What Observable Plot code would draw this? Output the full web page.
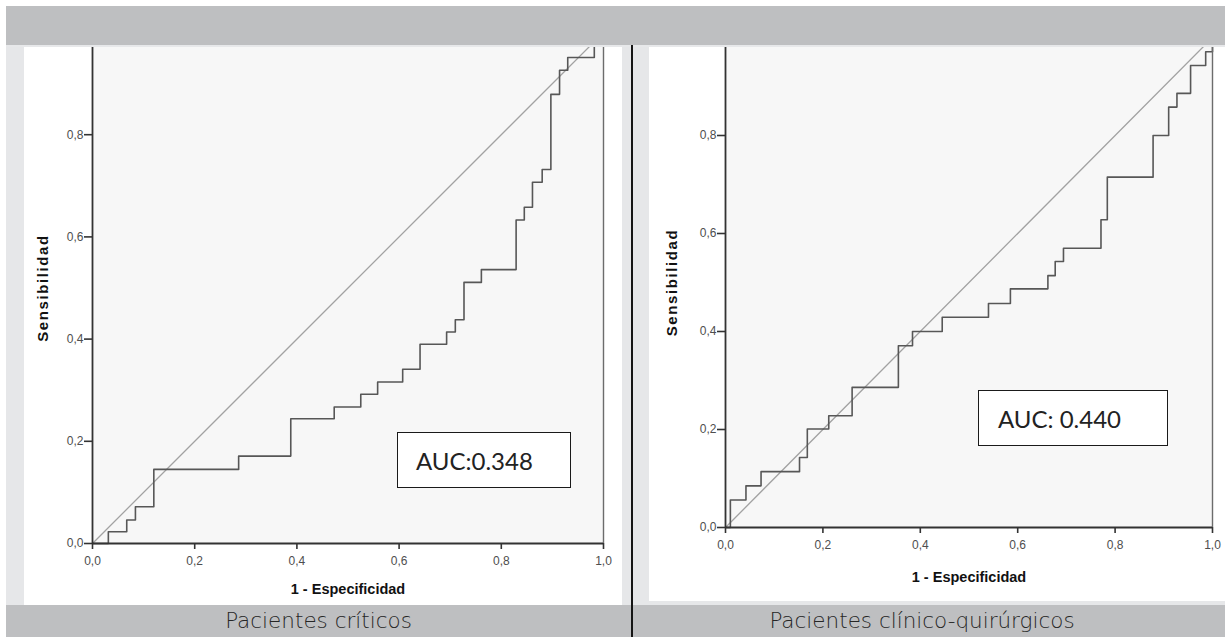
<!DOCTYPE html>
<html><head><meta charset="utf-8">
<script src="https://cdn.jsdelivr.net/npm/d3@7"></script>
<script src="https://cdn.jsdelivr.net/npm/@observablehq/plot@0.6"></script>
<style>
html,body{margin:0;padding:0;}
body{width:1225px;height:637px;position:relative;background:#fff;overflow:hidden;}
.abs{position:absolute;}
.panel{position:absolute;overflow:hidden;background:#fff;}
.panel svg{position:absolute;left:0;}
.auc{position:absolute;box-sizing:border-box;border:1.5px solid #1a1a1a;background:#fff;
  font-family:Lato,"Open Sans",sans-serif;font-size:24px;color:#222;display:flex;align-items:center;}
.foot{position:absolute;top:605px;height:32px;line-height:32px;text-align:center;
  font-family:"DejaVu Sans",sans-serif;font-weight:200;font-size:21.5px;color:#262626;}
</style></head><body>
<script>
// ---- data ----
const xTicks = [0, 0.2, 0.4, 0.6, 0.8, 1.0];
const yTicks = [0, 0.2, 0.4, 0.6, 0.8];
const diagonal = [0, 1];
const criticosFpr = [0, 0.031, 0.067, 0.084, 0.120, 0.286, 0.388, 0.473, 0.525, 0.558, 0.607, 0.641, 0.693, 0.710, 0.727, 0.761, 0.829, 0.845, 0.861, 0.880, 0.897, 0.914, 0.930, 0.982, 1];
const criticosTpr = [0, 0.023, 0.046, 0.072, 0.145, 0.171, 0.244, 0.267, 0.292, 0.316, 0.341, 0.390, 0.414, 0.438, 0.511, 0.536, 0.633, 0.658, 0.707, 0.732, 0.879, 0.926, 0.951, 0.976, 1];
const clinicoFpr = [0, 0.010, 0.042, 0.073, 0.152, 0.168, 0.212, 0.260, 0.355, 0.384, 0.445, 0.540, 0.585, 0.662, 0.677, 0.694, 0.771, 0.784, 0.878, 0.910, 0.927, 0.955, 0.986, 1];
const clinicoTpr = [0, 0.056, 0.085, 0.114, 0.143, 0.201, 0.228, 0.286, 0.371, 0.400, 0.429, 0.457, 0.487, 0.514, 0.543, 0.570, 0.628, 0.715, 0.800, 0.858, 0.886, 0.943, 0.971, 1];
const panelTitles = ["Pacientes críticos", "Pacientes clínico-quirúrgicos"];
const aucLabels = ["AUC:0.348", "AUC: 0.440"];
const xLabel = "1 - Especificidad";
const yLabel = "Sensibilidad";

// ---- layout ----
function div(cls, css, text) {
  const d = document.createElement("div");
  d.className = cls;
  Object.assign(d.style, css);
  if (text != null) d.textContent = text;
  document.body.appendChild(d);
  return d;
}
div("abs", {left:"6px", top:"6px", width:"1219px", height:"39px", background:"#bebfc1"});
div("abs", {left:"6px", top:"45px", width:"1219px", height:"2px", background:"#e7e8ea"});
div("abs", {left:"6px", top:"47px", width:"18px", height:"558px", background:"#e6e7e9"});
div("abs", {left:"622px", top:"47px", width:"27px", height:"558px", background:"#e6e7e9"});
div("abs", {left:"633px", top:"601px", width:"592px", height:"4px", background:"#e6e7e9"});
div("abs", {left:"6px", top:"605px", width:"1219px", height:"32px", background:"#bebfc1"});

const fmt = d => d.toFixed(1).replace(".", ",");

function rocPlot(fpr, tpr, o) {
  const pts = fpr.map((x, i) => ({x, y: tpr[i]}));
  const svg = Plot.plot({
    width: o.width, height: o.height,
    marginLeft: o.ml, marginRight: o.mr, marginTop: o.mt, marginBottom: o.mb,
    style: {background: "transparent", fontFamily: "'Liberation Sans', Arial, sans-serif", overflow: "visible"},
    x: {domain: [0, 1]},
    y: {domain: [0, 1]},
    marks: [
      Plot.frame({fill: "#f7f7f7", stroke: "none"}),
      Plot.line(diagonal, {x: d => d, y: d => d, stroke: "#a2a2a2", strokeWidth: 1.3}),
      Plot.line(pts, {x: "x", y: "y", curve: "step-after", stroke: "#575757", strokeWidth: 1.6}),
      Plot.ruleX([1], {stroke: "#6c6c6c", strokeWidth: 1.4}),
      Plot.ruleX([0], {stroke: "#333", strokeWidth: 1.8}),
      Plot.ruleY([0], {stroke: "#333", strokeWidth: 1.8}),
      Plot.axisX({ticks: xTicks, tickFormat: fmt, tickSize: 6, tickPadding: 7, fontSize: 12, label: null, stroke: "#333", strokeWidth: 1.6, fill: "#4e4e4e"}),
      Plot.axisY({ticks: yTicks, tickFormat: fmt, tickSize: 8, tickPadding: 1, fontSize: 12, label: null, stroke: "#333", strokeWidth: 1.6, fill: "#4e4e4e"}),
      Plot.text([xLabel], {text: d => d, frameAnchor: "bottom", dy: o.xdy, textAnchor: "middle", lineAnchor: "middle", fontWeight: "bold", fontSize: 14.5, fill: "#111"}),
      Plot.text([yLabel], {text: d => d, frameAnchor: "left", dx: o.ydx, rotate: -90, textAnchor: "middle", lineAnchor: "middle", fontWeight: "bold", fontSize: 15, fill: "#111"})
    ]
  });
  d3.select(svg).selectAll("text").filter(function() { return this.textContent === yLabel; })
    .attr("letter-spacing", "1.6px");
  const panel = div("panel", {left: o.left + "px", top: "47px", width: o.width + "px", height: o.panelH + "px"});
  svg.style.top = (20 - 47) + "px";
  panel.appendChild(svg);
}

rocPlot(criticosFpr, criticosTpr, {left: 24, width: 598, height: 584, panelH: 557, ml: 68, mr: 19, mt: 12, mb: 61, xdy: 46, ydx: -49});
rocPlot(clinicoFpr, clinicoTpr, {left: 649, width: 576, height: 581, panelH: 554, ml: 76, mr: 13, mt: 17, mb: 74, xdy: 50, ydx: -53});

div("abs", {left:"631px", top:"45px", width:"2px", height:"592px", background:"#151515"});

div("auc", {left:"397px", top:"432px", width:"174px", height:"56px", paddingLeft:"18px"}, aucLabels[0]);
div("auc", {left:"978px", top:"390px", width:"190px", height:"56px", paddingLeft:"19px"}, aucLabels[1]);

div("foot", {left:"6px", width:"625px"}, panelTitles[0]);
div("foot", {left:"633px", width:"578px"}, panelTitles[1]);
</script>
</body></html>
